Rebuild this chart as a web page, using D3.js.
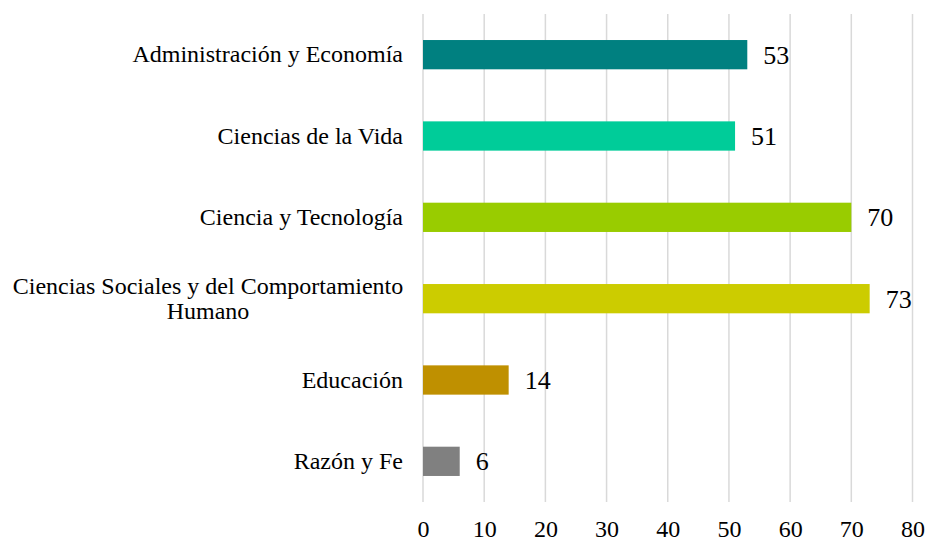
<!DOCTYPE html>
<html>
<head>
<meta charset="utf-8">
<script src="https://d3js.org/d3.v7.min.js"></script>
<style>
  body { margin: 0; background: #fff; }
  text { font-family: "Liberation Serif", "Times New Roman", serif; fill: #000; }
</style>
</head>
<body>
<div id="chart"></div>
<script>
// data
var categories = ["Administración y Economía", "Ciencias de la Vida", "Ciencia y Tecnología",
                  "Ciencias Sociales y del Comportamiento Humano", "Educación", "Razón y Fe"];
var values = [53, 51, 70, 73, 14, 6];
var colors = ["#008080", "#00CC99", "#99CC00", "#CCCC00", "#BF9000", "#808080"];
var ticks = [0, 10, 20, 30, 40, 50, 60, 70, 80];

var width = 928, height = 542;
var margin = {top: 14, right: 15, bottom: 40, left: 423};
var serif = "'Liberation Serif', 'Times New Roman', serif";

var svg = d3.select("#chart").append("svg")
    .attr("width", width)
    .attr("height", height);

var x = d3.scaleLinear().domain([0, 80]).range([margin.left, 912.5]);
var y = d3.scaleBand().domain(categories).range([margin.top, height - margin.bottom]).paddingInner(0.64).paddingOuter(0.32);

// vertical gridlines
svg.append("g").selectAll("line")
    .data(ticks)
    .enter().append("line")
    .attr("x1", function(d) { return x(d); })
    .attr("x2", function(d) { return x(d); })
    .attr("y1", margin.top)
    .attr("y2", height - margin.bottom)
    .attr("stroke", "#d9d9d9")
    .attr("stroke-width", 1.5);

// bars
svg.append("g").selectAll("rect")
    .data(values)
    .enter().append("rect")
    .attr("x", x(0))
    .attr("y", function(d, i) { return y(categories[i]); })
    .attr("width", function(d) { return x(d) - x(0); })
    .attr("height", y.bandwidth())
    .attr("fill", function(d, i) { return colors[i]; });

// value labels
svg.append("g").selectAll("text")
    .data(values)
    .enter().append("text")
    .attr("x", function(d) { return x(d) + 16; })
    .attr("y", function(d, i) { return y(categories[i]) + y.bandwidth() / 2; })
    .attr("dy", "0.35em")
    .style("font-family", serif)
    .style("font-size", "26px")
    .text(function(d) { return d; });

// x axis tick labels
var xAxis = d3.axisBottom(x).tickValues(ticks).tickSize(0).tickPadding(0);
var xg = svg.append("g")
    .attr("transform", "translate(0," + (height - margin.bottom) + ")")
    .call(xAxis);
xg.select(".domain").remove();
xg.selectAll("text")
    .attr("y", 35)
    .attr("dy", 0)
    .style("font-family", serif)
    .style("font-size", "24px")
    .attr("fill", "#000");

// category labels, wrapped where long
var yAxis = d3.axisLeft(y).tickSize(0).tickPadding(20);
var yg = svg.append("g")
    .attr("transform", "translate(" + margin.left + ",0)")
    .call(yAxis);
yg.select(".domain").remove();
yg.selectAll("text")
    .style("font-family", serif)
    .style("font-size", "24px")
    .attr("fill", "#000")
    .each(function(d) {
        if (d === "Ciencias Sociales y del Comportamiento Humano") {
            var t = d3.select(this).text(null).attr("dy", null);
            var cx = -(20 + 195);
            t.append("tspan").attr("x", cx).attr("dy", "-0.2em").attr("text-anchor", "middle")
                .text("Ciencias Sociales y del Comportamiento");
            t.append("tspan").attr("x", cx).attr("dy", "1.05em").attr("text-anchor", "middle")
                .text("Humano");
        }
    });
</script>
</body>
</html>
